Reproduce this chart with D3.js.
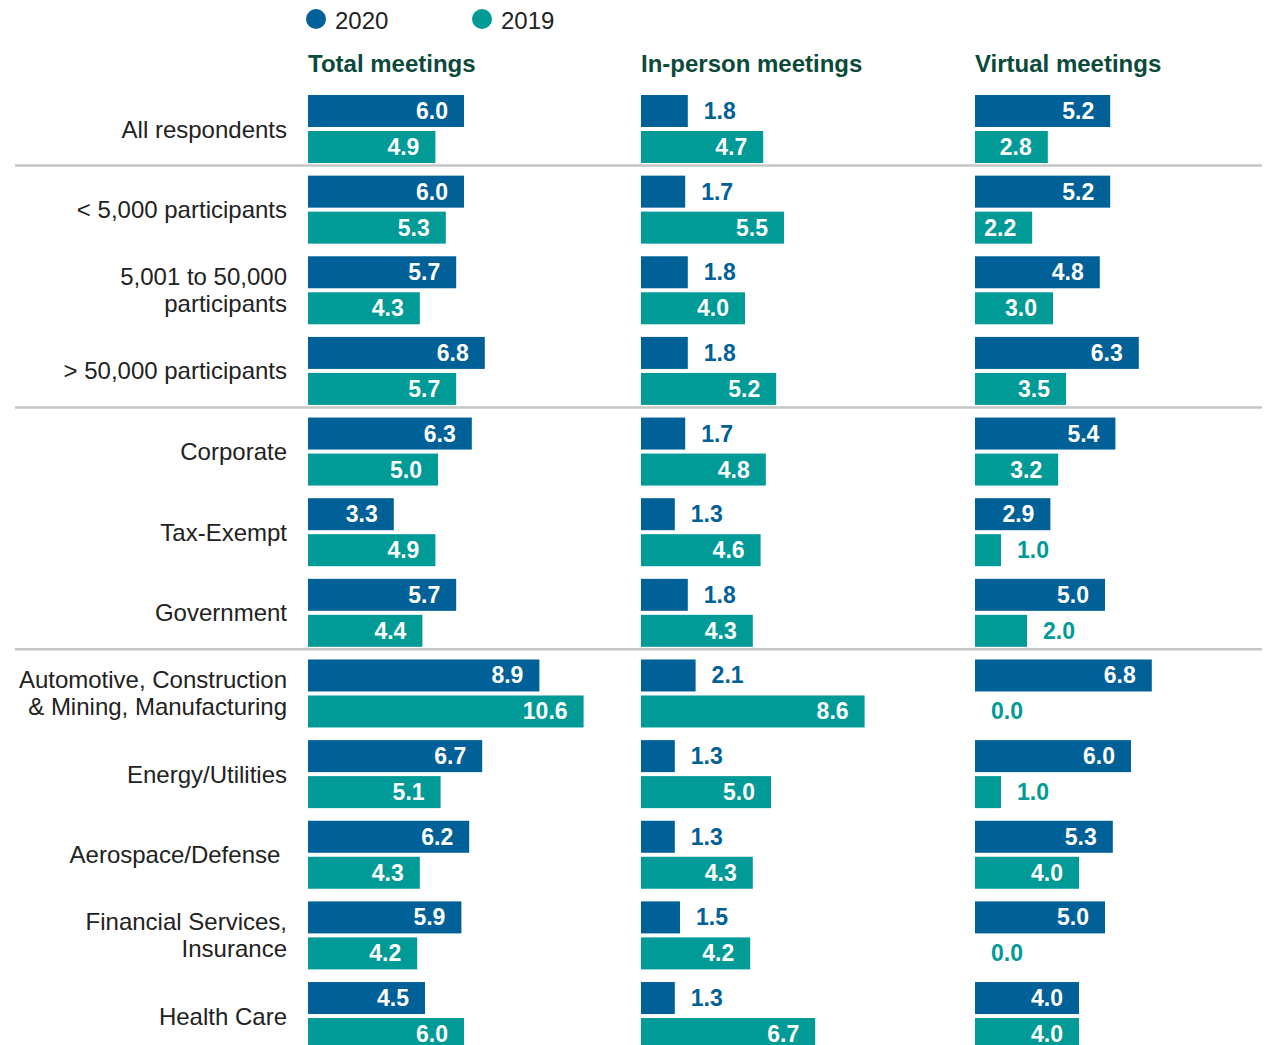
<!DOCTYPE html>
<html>
<head>
<meta charset="utf-8">
<script src="https://cdn.jsdelivr.net/npm/d3@7"></script>
<style>
  html, body { margin: 0; padding: 0; background: #fff; }
  svg { display: block; font-family: "Liberation Sans", Arial, sans-serif; }
</style>
</head>
<body>
<svg id="chart" width="1268" height="1045"></svg>
<script>
// Segments shown down the left side (lines split with "\n")
const categories = [
  "All respondents",
  "< 5,000 participants",
  "5,001 to 50,000\nparticipants",
  "> 50,000 participants",
  "Corporate",
  "Tax-Exempt",
  "Government",
  "Automotive, Construction\n& Mining, Manufacturing",
  "Energy/Utilities",
  "Aerospace/Defense ",
  "Financial Services,\nInsurance",
  "Health Care"
];

const panels = ["Total meetings", "In-person meetings", "Virtual meetings"];
const years = ["2020", "2019"];

// Average number of meetings, per segment
const total2020    = [6.0, 6.0, 5.7, 6.8, 6.3, 3.3, 5.7, 8.9, 6.7, 6.2, 5.9, 4.5];
const total2019    = [4.9, 5.3, 4.3, 5.7, 5.0, 4.9, 4.4, 10.6, 5.1, 4.3, 4.2, 6.0];
const inPerson2020 = [1.8, 1.7, 1.8, 1.8, 1.7, 1.3, 1.8, 2.1, 1.3, 1.3, 1.5, 1.3];
const inPerson2019 = [4.7, 5.5, 4.0, 5.2, 4.8, 4.6, 4.3, 8.6, 5.0, 4.3, 4.2, 6.7];
const virtual2020  = [5.2, 5.2, 4.8, 6.3, 5.4, 2.9, 5.0, 6.8, 6.0, 5.3, 5.0, 4.0];
const virtual2019  = [2.8, 2.2, 3.0, 3.5, 3.2, 1.0, 2.0, 0.0, 1.0, 4.0, 0.0, 4.0];

// Segments after which a divider line is drawn
const dividersAfter = [0, 3, 6];

const panelSeries = [
  [total2020, total2019],
  [inPerson2020, inPerson2019],
  [virtual2020, virtual2019]
];

const colors = { "2020": "#006098", "2019": "#009a97" };
const headColor = "#0b4a3b";
const textColor = "#222222";

const svg = d3.select("#chart");

// Layout
const rowTop = 95, rowStep = 80.64, barH = 32, barGap = 4;
const panelX = [308, 641, 975];
const labelRight = 287;
const fontSize = 24;

const yBand = d3.scaleLinear().domain([0, 1]).range([rowTop, rowTop + rowStep]);
const x = d3.scaleLinear().domain([0, 10]).range([0, 260]);
const yearOffset = d3.scaleOrdinal().domain(years).range([0, barH + barGap]);

// Legend
const legend = svg.append("g");
const legX = [316, 482];
years.forEach((yr, i) => {
  legend.append("circle")
    .attr("cx", legX[i]).attr("cy", 19).attr("r", 10)
    .attr("fill", colors[yr]);
  legend.append("text")
    .attr("x", legX[i] + 19).attr("y", 20)
    .attr("dominant-baseline", "central")
    .attr("font-size", fontSize).attr("fill", textColor)
    .text(yr);
});

// Panel headers
panels.forEach((p, i) => {
  svg.append("text")
    .attr("x", panelX[i]).attr("y", 63)
    .attr("dominant-baseline", "central")
    .attr("font-size", fontSize).attr("font-weight", "bold")
    .attr("fill", headColor)
    .text(p);
});

// Divider lines between segment groups
svg.selectAll("line.divider")
  .data(dividersAfter)
  .join("line")
  .attr("class", "divider")
  .attr("x1", 15).attr("x2", 1262)
  .attr("y1", d => yBand(d) + 2 * barH + barGap + 2.5)
  .attr("y2", d => yBand(d) + 2 * barH + barGap + 2.5)
  .attr("stroke", "#c6c6c6").attr("stroke-width", 2.5);

// Category labels
categories.forEach((c, i) => {
  const lines = c.split("\n");
  const cy = yBand(i) + barH + barGap / 2;
  const lh = 27;
  const t = svg.append("text")
    .attr("x", labelRight)
    .attr("text-anchor", "end")
    .attr("font-size", fontSize)
    .attr("fill", textColor)
    .style("white-space", "pre");
  lines.forEach((ln, j) => {
    t.append("tspan")
      .attr("x", labelRight)
      .attr("y", cy + (j - (lines.length - 1) / 2) * lh)
      .attr("dominant-baseline", "central")
      .text(ln);
  });
});

// Bars and value labels
panelSeries.forEach((series, p) => {
  const g = svg.append("g").attr("transform", `translate(${panelX[p]},0)`);
  years.forEach((yr, s) => {
    const vals = series[s];
    const data = vals.map((v, i) => ({ v, i }));
    g.selectAll(`rect.y${yr}`)
      .data(data)
      .join("rect")
      .attr("x", x(0))
      .attr("y", d => yBand(d.i) + yearOffset(yr))
      .attr("width", d => x(d.v) - x(0))
      .attr("height", barH)
      .attr("fill", colors[yr]);
    g.selectAll(`text.y${yr}`)
      .data(data)
      .join("text")
      .attr("x", d => d.v >= 2.2 ? x(d.v) - 16 : x(d.v) + 16)
      .attr("y", d => yBand(d.i) + yearOffset(yr) + barH / 2)
      .attr("text-anchor", d => d.v >= 2.2 ? "end" : "start")
      .attr("dominant-baseline", "central")
      .attr("font-size", 23).attr("font-weight", "bold")
      .attr("fill", d => d.v >= 2.2 ? "#ffffff" : colors[yr])
      .text(d => d.v.toFixed(1));
  });
});
</script>
</body>
</html>
